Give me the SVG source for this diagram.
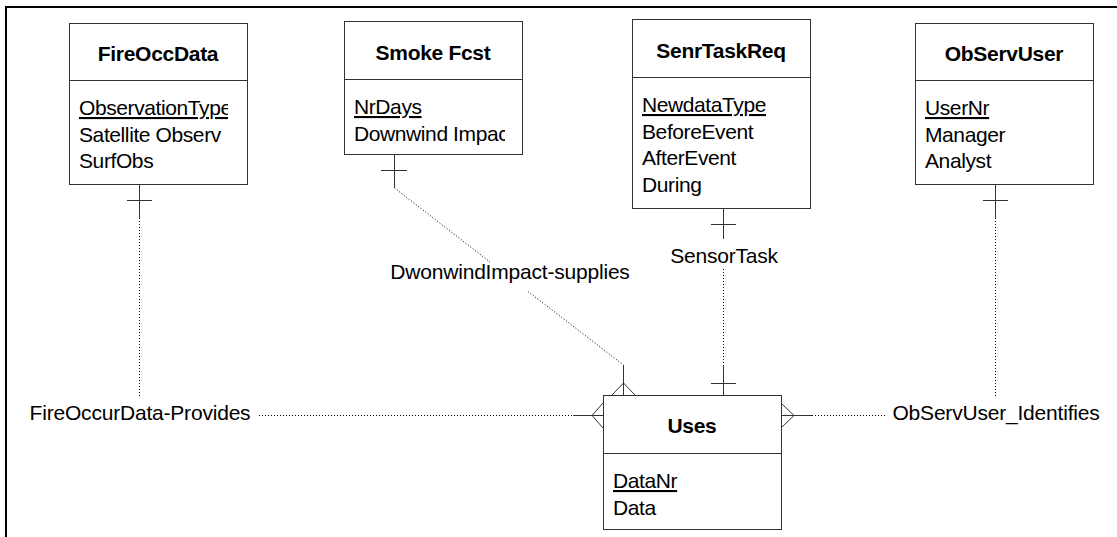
<svg xmlns="http://www.w3.org/2000/svg" width="1117" height="537" viewBox="0 0 1117 537">
<style>
.box{fill:#fff;stroke:#333;stroke-width:1}
.div{stroke:#333;stroke-width:1}
.title{font-family:"Liberation Sans",Arial,sans-serif;font-size:21px;font-weight:bold;fill:#000;text-anchor:middle;letter-spacing:-0.3px}
.attr{font-family:"Liberation Sans",Arial,sans-serif;font-size:21px;fill:#000;letter-spacing:-0.4px}
.key{text-decoration:underline}
.lbl{font-family:"Liberation Sans",Arial,sans-serif;font-size:21px;fill:#000;text-anchor:middle;letter-spacing:-0.2px}
.sol{stroke:#333;stroke-width:1;fill:none}
.dot{stroke:#000;stroke-width:1;stroke-dasharray:1 2;fill:none}
</style>
<defs>
<clipPath id="c1"><rect x="69" y="80" width="159" height="104"/></clipPath>
<clipPath id="c2"><rect x="344" y="79" width="161" height="75"/></clipPath>
<clipPath id="c3"><rect x="632" y="77" width="170" height="131"/></clipPath>
<clipPath id="c4"><rect x="915" y="80" width="170" height="104"/></clipPath>
<clipPath id="c5"><rect x="603" y="453" width="170" height="76"/></clipPath>
</defs>
<rect x="0" y="0" width="1117" height="537" fill="#fff"/>
<g id="frame">
<line x1="6" y1="7" x2="1117" y2="7" stroke="#000" stroke-width="2"/>
<line x1="6" y1="6" x2="6" y2="537" stroke="#000" stroke-width="2"/>
</g>
<g id="connectors">
<!-- FireOccData to Uses -->
<line class="sol" x1="139.5" y1="184" x2="139.5" y2="218"/>
<line class="sol" x1="127" y1="200.5" x2="152" y2="200.5"/>
<line class="dot" x1="139.5" y1="218" x2="139.5" y2="398"/>
<text class="lbl" x="140" y="420">FireOccurData-Provides</text>
<line class="dot" x1="259" y1="415.5" x2="573" y2="415.5"/>
<line class="sol" x1="573" y1="415.5" x2="603" y2="415.5"/>
<polyline class="sol" points="603,403 592,415.5 603,428"/>
<!-- Smoke Fcst to Uses -->
<line class="sol" x1="394.5" y1="154" x2="394.5" y2="188"/>
<line class="sol" x1="381" y1="170.5" x2="407" y2="170.5"/>
<line class="dot" x1="394.5" y1="188" x2="490" y2="262"/>
<line class="dot" x1="528" y1="291.5" x2="623.5" y2="365"/>
<text class="lbl" x="510" y="279">DwonwindImpact-supplies</text>
<line class="sol" x1="623.5" y1="365" x2="623.5" y2="395"/>
<polyline class="sol" points="612,395 623.5,383 635,395"/>
<!-- SenrTaskReq to Uses -->
<line class="sol" x1="723.5" y1="208" x2="723.5" y2="239"/>
<line class="sol" x1="711" y1="224.5" x2="736" y2="224.5"/>
<text class="lbl" x="724" y="263">SensorTask</text>
<line class="dot" x1="723.5" y1="269" x2="723.5" y2="365"/>
<line class="sol" x1="723.5" y1="365" x2="723.5" y2="395"/>
<line class="sol" x1="711" y1="383.5" x2="736" y2="383.5"/>
<!-- ObServUser to Uses -->
<line class="sol" x1="995.5" y1="184" x2="995.5" y2="218"/>
<line class="sol" x1="983" y1="200.5" x2="1008" y2="200.5"/>
<line class="dot" x1="995.5" y1="218" x2="995.5" y2="397"/>
<text class="lbl" x="996" y="420">ObServUser_Identifies</text>
<line class="dot" x1="812" y1="415.5" x2="885" y2="415.5"/>
<line class="sol" x1="781" y1="415.5" x2="812" y2="415.5"/>
<polyline class="sol" points="781,403 794,415.5 781,428"/>
</g>
<g id="FireOccData">
<rect class="box" x="69.5" y="23.5" width="178" height="161"/>
<line class="div" x1="69.5" y1="80.5" x2="247.5" y2="80.5"/>
<text class="title" x="158" y="61">FireOccData</text>
<g clip-path="url(#c1)">
<text class="attr key" x="79" y="115">ObservationType</text>
<text class="attr" x="79" y="141.5">Satellite Observ</text>
<text class="attr" x="79" y="168">SurfObs</text>
</g>
</g>
<g id="SmokeFcst">
<rect class="box" x="344.5" y="21.5" width="178" height="133"/>
<line class="div" x1="344.5" y1="79.5" x2="522.5" y2="79.5"/>
<text class="title" x="433" y="60">Smoke Fcst</text>
<g clip-path="url(#c2)">
<text class="attr key" x="354" y="114">NrDays</text>
<text class="attr" x="354" y="140.5">Downwind Impact</text>
</g>
</g>
<g id="SenrTaskReq">
<rect class="box" x="632.5" y="19.5" width="178" height="189"/>
<line class="div" x1="632.5" y1="77.5" x2="810.5" y2="77.5"/>
<text class="title" x="721" y="58">SenrTaskReq</text>
<g clip-path="url(#c3)">
<text class="attr key" x="642" y="112">NewdataType</text>
<text class="attr" x="642" y="138.5">BeforeEvent</text>
<text class="attr" x="642" y="165">AfterEvent</text>
<text class="attr" x="642" y="191.5">During</text>
</g>
</g>
<g id="ObServUser">
<rect class="box" x="915.5" y="23.5" width="178" height="161"/>
<line class="div" x1="915.5" y1="80.5" x2="1093.5" y2="80.5"/>
<text class="title" x="1004" y="61">ObServUser</text>
<g clip-path="url(#c4)">
<text class="attr key" x="925" y="115">UserNr</text>
<text class="attr" x="925" y="141.5">Manager</text>
<text class="attr" x="925" y="168">Analyst</text>
</g>
</g>
<g id="Uses">
<rect class="box" x="603.5" y="395.5" width="178" height="134"/>
<line class="div" x1="603.5" y1="453.5" x2="781.5" y2="453.5"/>
<text class="title" x="692" y="433">Uses</text>
<g clip-path="url(#c5)">
<text class="attr key" x="613" y="488">DataNr</text>
<text class="attr" x="613" y="514.5">Data</text>
</g>
</g>
</svg>
